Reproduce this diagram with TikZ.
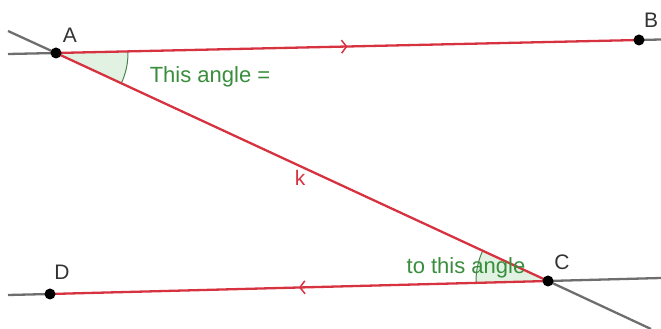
\documentclass[tikz,border=0pt]{standalone}
\usepackage{fontspec}
\setmainfont{Liberation Sans}
\usetikzlibrary{angles,arrows.meta,decorations.markings}

\definecolor{segred}{RGB}{214,50,64}
\definecolor{txtgreen}{RGB}{56,142,60}
\definecolor{anglefill}{RGB}{226,242,226}
\definecolor{extgray}{RGB}{110,110,110}

\tikzset{
  seg/.style={segred, line width=2.3pt},
  ext/.style={extgray, line width=2.3pt},
  midarrow/.style={postaction={decorate}, decoration={markings,
      mark=at position 0.5 with {\arrow{Straight Barb[length=5pt,width=13pt,line width=1.5pt]}}}},
  dot/.style={circle, fill=black, inner sep=0pt, minimum size=11pt},
  lbl/.style={font=\fontsize{21}{25}\selectfont, text=black!80},
  note/.style={font=\fontsize{22}{26}\selectfont, text=txtgreen},
  ang/.style={draw=green!30!black!70, fill=anglefill, line width=1pt, angle radius=72pt},
}

\begin{document}
\begin{tikzpicture}[x=1pt,y=1pt]
    \useasboundingbox (0,0) rectangle (661,329);

    % Points
    \coordinate (A) at (56,276);
    \coordinate (B) at (639,289);
    \coordinate (C) at (548,48);
    \coordinate (D) at (50,35);

    % Free ends of the lines
    \coordinate (Aleft) at (8,275);
    \coordinate (Aup) at (8,298);
    \coordinate (Bright) at (661,289.5);
    \coordinate (Cright) at (661,51);
    \coordinate (Cdown) at (651,0);
    \coordinate (Dleft) at (8,34);

    % Angles
    \pic[ang] {angle = C--A--B};
    \pic[ang] {angle = A--C--D};

    % Lines
    \draw[ext] (A) -- (Aleft);
    \draw[ext] (A) -- (Aup);
    \draw[ext] (B) -- (Bright);
    \draw[ext] (C) -- (Cright);
    \draw[ext] (C) -- (Cdown);
    \draw[ext] (D) -- (Dleft);

    % Segments
    \draw[seg, midarrow] (A) -- (B);
    \draw[seg, midarrow] (C) -- (D);
    \draw[seg] (A) -- (C);

    \node[dot] (dotA) at (A) {};
    \node[dot] (dotB) at (B) {};
    \node[dot] (dotC) at (C) {};
    \node[dot] (dotD) at (D) {};

    % Labels
    \node[lbl] (labA) at (70,294) {A};
    \node[lbl] (labB) at (651,309) {B};
    \node[lbl] (labC) at (562,67) {C};
    \node[lbl] (labD) at (62,57) {D};
    \node[lbl, text=segred] (labk) at (300,151) {k};

    \node[note] (this) at (210,252) {This angle =};
    \node[note] (that) at (466,61) {to this angle};

\end{tikzpicture}
\end{document}
